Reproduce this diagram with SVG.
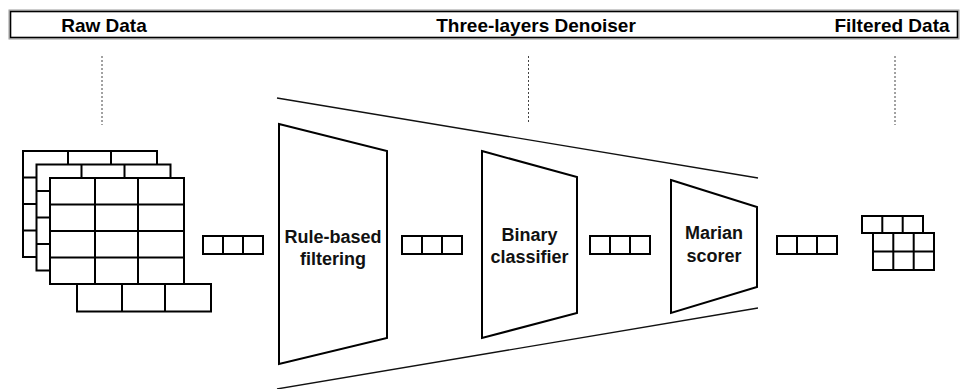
<svg xmlns="http://www.w3.org/2000/svg" xmlns:xlink="http://www.w3.org/1999/xlink" width="961" height="389" viewBox="0 0 961 389">
<style>
.hdr{font-family:"Liberation Sans",Arial,sans-serif;font-weight:bold;font-size:19px;fill:#000;text-anchor:middle}
.lbl{font-family:"Liberation Sans",Arial,sans-serif;font-weight:bold;font-size:18px;fill:#111;text-anchor:middle}
.box{fill:#fff;stroke:#000;stroke-width:2}
.ln{fill:none;stroke:#000;stroke-width:2}
.trap{fill:#fff;stroke:#000;stroke-width:2;stroke-linejoin:miter}
.funnel{fill:none;stroke:#111;stroke-width:1.3}
.dot{fill:none;stroke:#444;stroke-width:1;stroke-dasharray:2 2}
</style>
<defs>
<g id="layer">
<rect class="box" x="0" y="0" width="134" height="106"/>
<path class="ln" d="M45 0V106M88 0V106M0 26.5H134M0 53H134M0 79.5H134"/>
</g>
<g id="vec">
<rect class="box" x="0" y="0" width="60" height="18"/>
<path class="ln" d="M20 0V18M40 0V18"/>
</g>
</defs>
<rect width="961" height="389" fill="#fff"/>
<g id="header">
<rect x="9" y="10" width="950" height="29" fill="#fff" stroke="#999" stroke-width="1"/>
<rect x="10.5" y="11.5" width="947" height="26" fill="none" stroke="#000" stroke-width="1.6"/>
<text class="hdr" x="104" y="31.5">Raw Data</text>
<text class="hdr" x="536" y="31.5">Three-layers Denoiser</text>
<text class="hdr" x="892" y="31.5">Filtered Data</text>
</g>
<g id="connectors">
<line class="dot" x1="102" y1="56" x2="102" y2="125"/>
<line class="dot" x1="528.5" y1="56" x2="528.5" y2="123"/>
<line class="dot" x1="895" y1="56" x2="895" y2="125"/>
<line class="funnel" x1="277" y1="98" x2="758" y2="178"/>
<line class="funnel" x1="277" y1="389" x2="758" y2="308"/>
</g>
<g id="raw-data">
<use xlink:href="#layer" x="23" y="151"/>
<use xlink:href="#layer" x="36.5" y="164.5"/>
<use xlink:href="#layer" x="50" y="178"/>
<rect class="box" x="77" y="284" width="134" height="27.5"/>
<path class="ln" d="M122 284V311.5M165 284V311.5"/>
</g>
<g id="vec-1"><use xlink:href="#vec" x="203" y="236"/></g>
<g id="rule-based-filtering">
<polygon class="trap" points="279,124 387,151 387,338 279,364"/>
<text class="lbl" x="333" y="243">Rule-based</text>
<text class="lbl" x="333" y="265">filtering</text>
</g>
<g id="vec-2"><use xlink:href="#vec" x="402" y="236"/></g>
<g id="binary-classifier">
<polygon class="trap" points="482,151 577,177 577,313 482,338"/>
<text class="lbl" x="529.5" y="241">Binary</text>
<text class="lbl" x="529.5" y="263">classifier</text>
</g>
<g id="vec-3"><use xlink:href="#vec" x="590" y="236"/></g>
<g id="marian-scorer">
<polygon class="trap" points="671,180 757,207 757,287 671,313"/>
<text class="lbl" x="714" y="239">Marian</text>
<text class="lbl" x="714" y="262">scorer</text>
</g>
<g id="vec-4"><use xlink:href="#vec" x="777" y="236"/></g>
<g id="filtered-data">
<rect class="box" x="873" y="233" width="61" height="37"/>
<path class="ln" d="M893.3 233V270M913.7 233V270M873 251.5H934"/>
<rect class="box" x="862" y="216" width="61" height="17"/>
<path class="ln" d="M882.3 216V233M902.7 216V233"/>
</g>
</svg>
